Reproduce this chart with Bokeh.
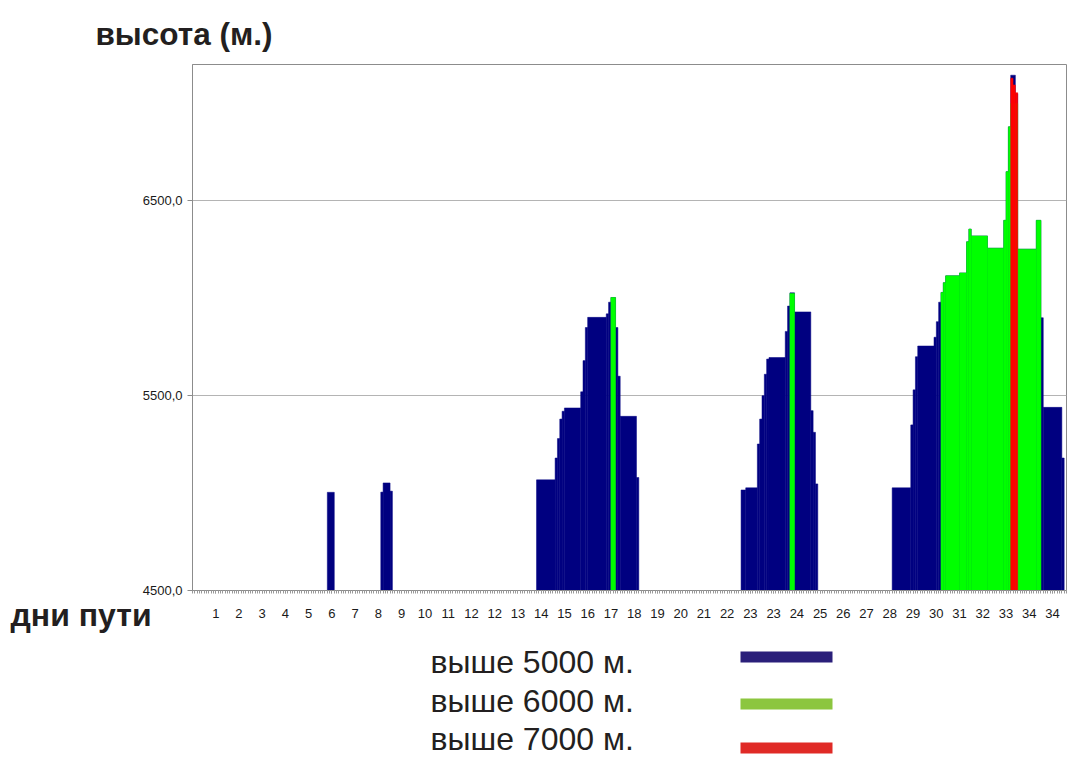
from bokeh.plotting import figure
from bokeh.layouts import column
from bokeh.models import Range1d, FixedTicker, Title, ColumnDataSource
from bokeh.core.properties import value
from bokeh.embed import file_html
from bokeh.resources import INLINE

# ---------------- data ----------------
day_labels = ["1", "2", "3", "4", "5", "6", "7", "8", "9", "10", "11", "12", "12",
              "13", "14", "15", "16", "17", "18", "19", "20", "21", "22", "23", "23",
              "24", "25", "26", "27", "28", "29", "30", "31", "32", "33", "34", "34"]
label_step = 10          # observation slots between two day labels
n_slots = 376            # observation slots on the category axis

# "выше 5000 м." – runs of equal altitude (first slot, slot after last, altitude)
blue_start = [58, 81, 82, 85,
              148, 156, 157, 158, 159, 160, 167, 168, 169, 170, 178, 179, 180, 182, 183, 184, 191,
              236, 238, 243, 244, 245, 246, 247, 248, 255, 256, 257, 259, 266, 267, 268,
              301, 309, 310, 311, 312, 319, 320, 321, 322, 323, 324, 330, 333, 334, 335, 342,
              349, 350, 351, 352, 354, 355, 363, 365, 366, 374]
blue_end = [61, 82, 85, 86,
            156, 157, 158, 159, 160, 167, 168, 169, 170, 178, 179, 180, 182, 183, 184, 191, 192,
            238, 243, 244, 245, 246, 247, 248, 255, 256, 257, 259, 266, 267, 268, 269,
            309, 310, 311, 312, 319, 320, 321, 322, 323, 324, 330, 333, 334, 335, 342, 349,
            350, 351, 352, 354, 355, 363, 365, 366, 374, 375]
blue_alt = [5004, 5005, 5052, 5010,
            5068, 5180, 5280, 5380, 5420, 5437, 5520, 5680, 5850, 5902, 5920, 5980, 6004, 5850, 5600, 5394, 5080,
            5016, 5027, 5252, 5380, 5500, 5610, 5688, 5696, 5830, 5960, 6028, 5930, 5423, 5312, 5047,
            5027, 5350, 5530, 5700, 5755, 5800, 5880, 5980, 6030, 6080, 6115, 6130, 6290, 6355, 6320, 6257,
            6400, 6650, 6880, 7145, 7050, 6252, 6400, 5900, 5440, 5180]

# "выше 6000 м."
green_start = [180, 257, 322, 323, 324, 330, 333, 334, 335, 342, 349, 350, 351, 352, 355, 363]
green_end = [182, 259, 323, 324, 330, 333, 334, 335, 342, 349, 350, 351, 352, 355, 363, 365]
green_alt = [6004, 6025, 6030, 6080, 6115, 6130, 6290, 6355, 6320, 6257, 6400, 6650, 6880, 7000, 6252, 6400]

# "выше 7000 м."
red_start = [352, 353, 354]
red_end = [353, 354, 355]
red_alt = [7130, 7095, 7055]

y_min, y_max = 4500, 7200
y_ticks = [4500, 5500, 6500]

legend_texts = ["выше 5000 м.", "выше 6000 м.", "выше 7000 м."]
legend_colors = ["#2A1F7A", "#8CC63F", "#E02A26"]

# ---------------- layout ----------------
W = 1070
H1 = 636
H2 = 758 - H1
BL, BR, BT = 192, 4, 64
BB = H1 - 590
FONT = "Liberation Sans"
TXT = "#231F20"

p = figure(width=W, height=H1, x_range=Range1d(0, n_slots), y_range=Range1d(y_min, y_max),
           output_backend="svg", toolbar_location=None,
           min_border_left=BL, min_border_right=BR, min_border_top=BT, min_border_bottom=BB)
p.background_fill_color = "white"
p.border_fill_color = "white"
p.outline_line_color = "#8C8C8C"
p.outline_line_width = 1

for st, en, alt, col in [(blue_start, blue_end, blue_alt, "#000080"),
                         (green_start, green_end, green_alt, "#00FF00"),
                         (red_start, red_end, red_alt, "#FF0000")]:
    src = ColumnDataSource(dict(left=st, right=en, top=alt))
    p.quad(left="left", right="right", top="top", bottom=y_min, source=src,
           fill_color=col, line_color=col, line_width=0.5)

# x axis
label_pos = [label_step * (i + 1) for i in range(len(day_labels))]
xa = p.xaxis[0]
xa.ticker = FixedTicker(ticks=label_pos, minor_ticks=list(range(0, n_slots + 1)))
xa.major_label_overrides = {pos: lab for pos, lab in zip(label_pos, day_labels)}
xa.axis_line_color = "#8C8C8C"
xa.major_tick_line_color = "#9A9A9A"
xa.minor_tick_line_color = "#9A9A9A"
xa.major_tick_out = 3
xa.major_tick_in = 0
xa.minor_tick_out = 3
xa.minor_tick_in = 0
xa.major_label_standoff = 15
xa.major_label_text_font = FONT
xa.major_label_text_font_size = "13px"
xa.major_label_text_color = "#1A1A1A"

ya = p.yaxis[0]
ya.ticker = FixedTicker(ticks=y_ticks, minor_ticks=[])
ya.major_label_overrides = {t: f"{t},0" for t in y_ticks}
ya.axis_line_color = "#8C8C8C"
ya.major_tick_line_color = "#8C8C8C"
ya.major_tick_out = 5
ya.major_tick_in = 0
ya.minor_tick_line_color = None
ya.major_label_standoff = 5
ya.major_label_text_font = FONT
ya.major_label_text_font_size = "13px"
ya.major_label_text_color = "#1A1A1A"

p.xgrid.visible = False
p.ygrid.grid_line_color = "#B4B4B4"
p.ygrid.grid_line_width = 1

# axis titles
p.title.text = "высота (м.)"
p.title.align = "left"
p.title.offset = 95 - BL
p.title.standoff = 26
p.title.vertical_align = "bottom"
p.title.text_font = FONT
p.title.text_font_style = "bold"
p.title.text_font_size = "31.5px"
p.title.text_color = TXT

xt = Title(text="дни пути", align="left", offset=10 - BL, vertical_align="top",
           text_font=FONT, text_font_style="bold", text_font_size="32px", text_color=TXT)
try:
    xt.standoff = -47
except Exception:
    xt.standoff = 0
p.add_layout(xt, "below")

# legend panel (its frame lines up with the chart frame: x in page pixels)
q = figure(width=W, height=H2, x_range=Range1d(BL, W - BR), y_range=Range1d(H2, 0),
           output_backend="svg", toolbar_location=None, x_axis_type=None, y_axis_type=None,
           min_border=0)
q.outline_line_color = None
q.grid.visible = False
rows = [674, 713, 751]            # text baselines on the page
text_shift = 13                    # renderer places the text this much lower
bar_tops = [651, 698, 742]        # legend colour bars on the page
bar_h = 11
q.text(x=[430] * 3, y=[r - H1 - text_shift for r in rows], text=legend_texts,
       text_font=value(FONT), text_font_size=value("32px"), text_color=TXT,
       text_baseline=value("alphabetic"), text_align=value("left"))
q.quad(left=[740] * 3, right=[832] * 3,
       top=[t - H1 for t in bar_tops], bottom=[t - H1 + bar_h for t in bar_tops],
       fill_color=legend_colors, line_color=None)

layout = column(p, q, spacing=0)
open("out.html", "w").write(file_html(layout, INLINE))
